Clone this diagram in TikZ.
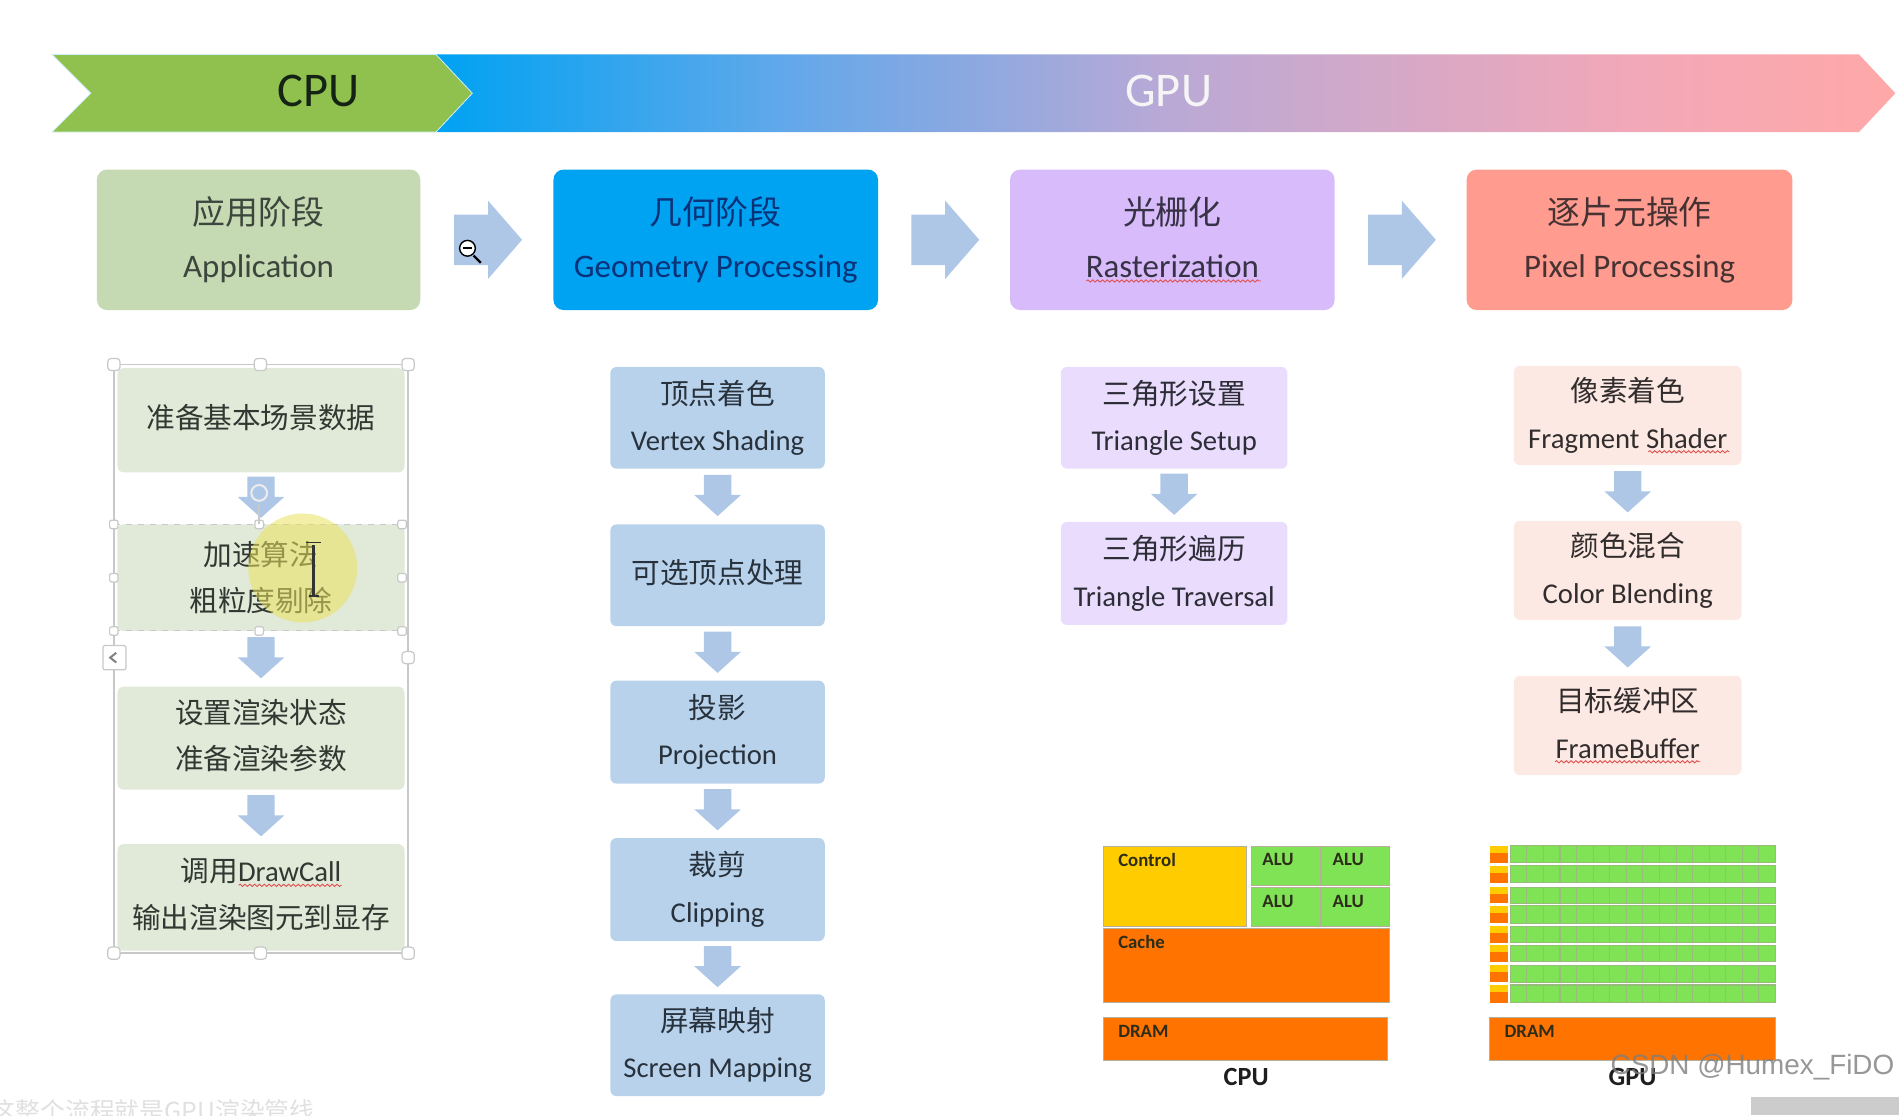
\documentclass[tikz,border=0pt]{standalone}
\usepackage{fontspec}
\setmainfont{Carlito}
\newfontfamily\cjk{Noto Sans CJK SC}
\newfontfamily\wmfont{Liberation Sans}
\usetikzlibrary{shapes.arrows,calc,decorations.pathmorphing}
\definecolor{gA}{HTML}{00A2F2}
\definecolor{gB}{HTML}{62A8EA}
\definecolor{gC}{HTML}{B9A9D6}
\definecolor{gD}{HTML}{F2A8B8}
\definecolor{gE}{HTML}{FFA8A8}
\definecolor{arrowc}{HTML}{AFC7E7}
\definecolor{chevgreen}{HTML}{90C14E}
\definecolor{handleg}{HTML}{C8C8C8}
\definecolor{grnc}{HTML}{7FE355}
\definecolor{orgc}{HTML}{FF7300}
\definecolor{ylwc}{HTML}{FFCC00}
\definecolor{edgec}{HTML}{B5B09A}
\definecolor{cellline}{HTML}{98BC7C}
\pgfdeclarehorizontalshading{gpugrad}{100bp}{color(0bp)=(gA); color(25bp)=(gA); color(37bp)=(gB); color(50bp)=(gC); color(66bp)=(gD); color(75bp)=(gE); color(100bp)=(gE)}
\newcommand{\cj}[1]{{\cjk #1}}
\newcommand{\oneline}[1]{\raisebox{3.5pt}{\cj{#1}}}
\newcommand{\lift}{\rule[-4pt]{0pt}{4pt}}
% name, x1, y1, x2, y2, style, text
\newcommand{\blk}[7]{\node[#6, minimum width={(#4-#2)*0.6pt}, minimum height={(#5-#3)*0.6pt}] (#1) at ({(#2+#4)/2},{(#3+#5)/2}) {#7};}
\newcommand{\squig}[3]{\draw[squigc] (#1,#3) -- (#2,#3);}
\newcommand{\hdl}[2]{\draw[handlest] (#1-3.5,#2-3.5) rectangle (#1+3.5,#2+3.5);}
\newcommand{\hdlb}[2]{\draw[handlest,rounded corners=1.6pt] (#1-5,#2-5) rectangle (#1+5,#2+5);}
\tikzset{
  x=0.6pt,y=-0.6pt,
  stagebox/.style={rounded corners=5pt,inner sep=0pt,align=center,font=\fontsize{16.3}{26}\selectfont},
  smallbox/.style={rounded corners=3pt,inner sep=0pt,align=center,font=\fontsize{14.2}{23}\selectfont},
  stA/.style={stagebox,fill={rgb,255:red,197;green,217;blue,179},text={rgb,255:red,60;green,70;blue,60}},
  stB/.style={stagebox,fill=gA,text={rgb,255:red,10;green,50;blue,120}},
  stC/.style={stagebox,fill={rgb,255:red,216;green,187;blue,251},text={rgb,255:red,55;green,50;blue,70}},
  stD/.style={stagebox,fill={rgb,255:red,255;green,156;blue,143},text={rgb,255:red,70;green,50;blue,50}},
  colA/.style={smallbox,fill={rgb,255:red,225;green,234;blue,217},text={rgb,255:red,50;green,55;blue,50}},
  colB/.style={smallbox,fill={rgb,255:red,184;green,210;blue,236},text={rgb,255:red,40;green,50;blue,60}},
  colC/.style={smallbox,fill={rgb,255:red,233;green,220;blue,252},text={rgb,255:red,45;green,45;blue,55}},
  colD/.style={smallbox,fill={rgb,255:red,253;green,233;blue,228},text={rgb,255:red,50;green,45;blue,45}},
  rarr/.style={single arrow,draw=none,fill=arrowc,inner xsep=0pt,inner ysep=12.3pt,minimum height=33.6pt,single arrow head extend=6.9pt,single arrow tip angle=98,xshift=-4.8pt},
  darr/.style={single arrow,draw=none,fill=arrowc,inner xsep=0pt,inner ysep=6.6pt,rotate=-90,minimum height=20.4pt,single arrow head extend=4.8pt,single arrow tip angle=96,xshift=-3.6pt},
  squigc/.style={draw={rgb,255:red,225;green,80;blue,80},line width=0.45pt,decorate,decoration={snake,amplitude=0.55pt,segment length=2.4pt}},
  handlest/.style={draw=handleg,fill=white,line width=0.6pt,rounded corners=1pt},
  chip/.style={inner sep=0pt,draw=edgec,line width=0.5pt,anchor=center},
  chiplab/.style={anchor=west,inner sep=0pt,text={rgb,255:red,45;green,45;blue,25},font=\fontsize{9.3}{11}\selectfont\bfseries},
  chipcap/.style={inner sep=0pt,text={rgb,255:red,30;green,30;blue,30},font=\fontsize{13}{15}\selectfont\bfseries},
}
\begin{document}
\begin{tikzpicture}
\useasboundingbox (0,0) rectangle (1568,921);
\begin{scope}
\clip (0,0) rectangle (1568,921);
% banner
\path[shading=gpugrad] (360,45) -- (1535,45) -- (1565,77) -- (1535,109) -- (360,109) -- (390,77) -- cycle;
\filldraw[fill=chevgreen,draw=white!80!cyan,line width=0.4pt] (43,45) -- (360,45) -- (390,77) -- (360,109) -- (43,109) -- (75,77) -- cycle;
\node[inner sep=0pt,font=\fontsize{24}{28}\selectfont,text={rgb,255:red,20;green,35;blue,20}] (cpuban) at (263,75) {CPU};
\node[inner sep=0pt,font=\fontsize{24}{28}\selectfont,text=white!92!gray] (gpuban) at (965,75) {GPU};
% stages
\blk{s1}{80}{140}{347}{256}{stA}{\cj{应用阶段}\\Application}
\blk{s2}{457}{140}{725}{256}{stB}{\cj{几何阶段}\\Geometry Processing}
\blk{s3}{834}{140}{1102}{256}{stC}{\cj{光栅化}\\Rasterization\vphantom{p}}
\blk{s4}{1211}{140}{1480}{256}{stD}{\cj{逐片元操作}\\Pixel Processing}
\node[rarr] (r1) at ($(s1.east)!.5!(s2.west)$) {};
\node[rarr] (r2) at ($(s2.east)!.5!(s3.west)$) {};
\node[rarr] (r3) at ($(s3.east)!.5!(s4.west)$) {};
% column A
\blk{a1}{97}{304}{334}{390}{colA}{\oneline{准备基本场景数据}}
\blk{a2}{97}{433}{334}{521}{colA}{\cj{加速算法}\\\cj{粗粒度剔除}}
\blk{a3}{97}{567}{334}{652}{colA}{\cj{设置渲染状态}\\\cj{准备渲染参数}\lift}
\blk{a4}{97}{697}{334}{785}{colA}{\cj{调用}DrawCall\\\cj{输出渲染图元到显存}\lift}
\node[darr] (aa1) at ($(a1.south)!.5!(a2.north)$) {};
\node[darr] (aa2) at ($(a2.south)!.5!(a3.north)$) {};
\node[darr] (aa3) at ($(a3.south)!.5!(a4.north)$) {};
\squig{197}{282}{731}
% column B
\blk{b1}{504}{303}{681}{387}{colB}{\cj{顶点着色}\\Vertex Shading}
\blk{b2}{504}{433}{681}{517}{colB}{\oneline{可选顶点处理}}
\blk{b3}{504}{562}{681}{647}{colB}{\cj{投影}\\Projection}
\blk{b4}{504}{692}{681}{777}{colB}{\cj{裁剪}\\Clipping}
\blk{b5}{504}{821}{681}{905}{colB}{\cj{屏幕映射}\\Screen Mapping}
\node[darr] (bb1) at ($(b1.south)!.5!(b2.north)$) {};
\node[darr] (bb2) at ($(b2.south)!.5!(b3.north)$) {};
\node[darr] (bb3) at ($(b3.south)!.5!(b4.north)$) {};
\node[darr] (bb4) at ($(b4.south)!.5!(b5.north)$) {};
% column C
\blk{c1}{876}{303}{1063}{387}{colC}{\cj{三角形设置}\\Triangle Setup}
\blk{c2}{876}{431}{1063}{516}{colC}{\cj{三角形遍历}\\Triangle Traversal}
\node[darr] (cc1) at ($(c1.south)!.5!(c2.north)$) {};
% column D
\blk{d1}{1250}{302}{1438}{384}{colD}{\cj{像素着色}\\Fragment Shader}
\blk{d2}{1250}{430}{1438}{512}{colD}{\cj{颜色混合}\\Color Blending}
\blk{d3}{1250}{558}{1438}{640}{colD}{\cj{目标缓冲区}\\FrameBuffer\vphantom{g}}
\node[darr] (dd1) at ($(d1.south)!.5!(d2.north)$) {};
\node[darr] (dd2) at ($(d2.south)!.5!(d3.north)$) {};
% spelling squiggles
\squig{897}{1041}{232}
\squig{1361}{1428}{373}
\squig{1284}{1404}{629}
% selection frame
\draw[handleg,line width=0.7pt] (94,301) rectangle (337,787);
\draw[handleg,line width=0.5pt,dashed] (94,433) -- (332,433);
\draw[handleg,line width=0.5pt,dashed] (94,521) -- (332,521);
\foreach \hx/\hy in {94/301,215/301,337/301,94/787,215/787,337/787,337/543}{\hdlb{\hx}{\hy}}
\foreach \hx/\hy in {94/433,214/433,332/433,94/477,332/477,94/521,214/521,332/521}{\hdl{\hx}{\hy}}
\draw[handlest,fill=white] (85,533) rectangle (104,553);
\draw[gray,line width=1pt] (96,539) -- (91,543) -- (96,547);
\draw[handleg,line width=0.8pt] (214,416) -- (214,433);
\draw[white!85!gray,line width=1pt] (214,407) circle (6.5);
% pointer highlight
\fill[yellow!75!gray!80!white,opacity=.55] (250,469) circle (45);
\draw[black!80,line width=1.3pt] (259,450) -- (259,491);
\draw[black!80,line width=0.8pt] (253,448) -- (265,448) (255,492) -- (263,492);
% magnifier cursor
\draw[black,line width=1.2pt] (391,211) -- (397,217);
\draw[black,fill=white,line width=0.7pt] (386,205) circle (6.5);
\draw[black,line width=1pt] (382,205) -- (390,205);
% CPU chip
\blk{ctrl}{911}{699}{1029}{765}{chip,fill=ylwc}{}
\blk{alu1}{1033}{699}{1090}{731}{chip,fill=grnc}{}
\blk{alu2}{1091}{699}{1147}{731}{chip,fill=grnc}{}
\blk{alu3}{1033}{733}{1090}{765}{chip,fill=grnc}{}
\blk{alu4}{1091}{733}{1147}{765}{chip,fill=grnc}{}
\blk{cache}{911}{767}{1147}{828}{chip,fill=orgc}{}
\blk{dram1}{911}{840}{1146}{876}{chip,fill=orgc}{}
\node[chiplab] (t1) at (923,710) {Control};
\node[chiplab] (t2) at (1042,710) {ALU};
\node[chiplab] (t3) at (1100,710) {ALU};
\node[chiplab] (t4) at (1042,744) {ALU};
\node[chiplab] (t5) at (1100,744) {ALU};
\node[chiplab] (t6) at (923,778) {Cache};
\node[chiplab] (t7) at (923,852) {DRAM};
\node[chipcap] (cpucap) at (1029,889) {CPU};
% GPU chip
\foreach \ya/\yb in {698.5/712.3,715/729,732.7/746,748/762.4,764.6/778.4,780.6/794.3,797/811,813.3/828}{
  \fill[orgc] (1230,\ya) rectangle (1245,\yb);
  \fill[ylwc] (1230,\ya) rectangle (1245,{\ya+(\yb-\ya)*0.4});
  \foreach \cellk in {0,...,15}{
    \pgfmathsetmacro{\cellx}{1247+\cellk*13.6875}
    \pgfmathsetmacro{\cellxb}{\cellx+13.6875}
    \draw[draw=cellline,fill=grnc,line width=0.5pt] (\cellx,\ya) rectangle (\cellxb,\yb);
  }
}
\blk{dram2}{1230}{840}{1466}{876}{chip,fill=orgc}{}
\node[chiplab] (t8) at (1242,852) {DRAM};
\node[chipcap] (gpucap) at (1348,889) {GPU};
% watermark and screenshot remains
\node[inner sep=0pt,font=\wmfont\fontsize{13.8}{16}\selectfont,text={rgb,255:red,125;green,125;blue,125},opacity=.8] (wm) at (1447,881) {CSDN @Humex\_FiDO};
\fill[black!20] (1446,906) rectangle (1568,921);
\node[anchor=base west,inner sep=0pt,text=black!12,font=\cjk\fontsize{12.3}{14}\selectfont] (subtitle) at (-8,925) {这整个流程就是GPU渲染管线};
\end{scope}
\end{tikzpicture}
\end{document}
